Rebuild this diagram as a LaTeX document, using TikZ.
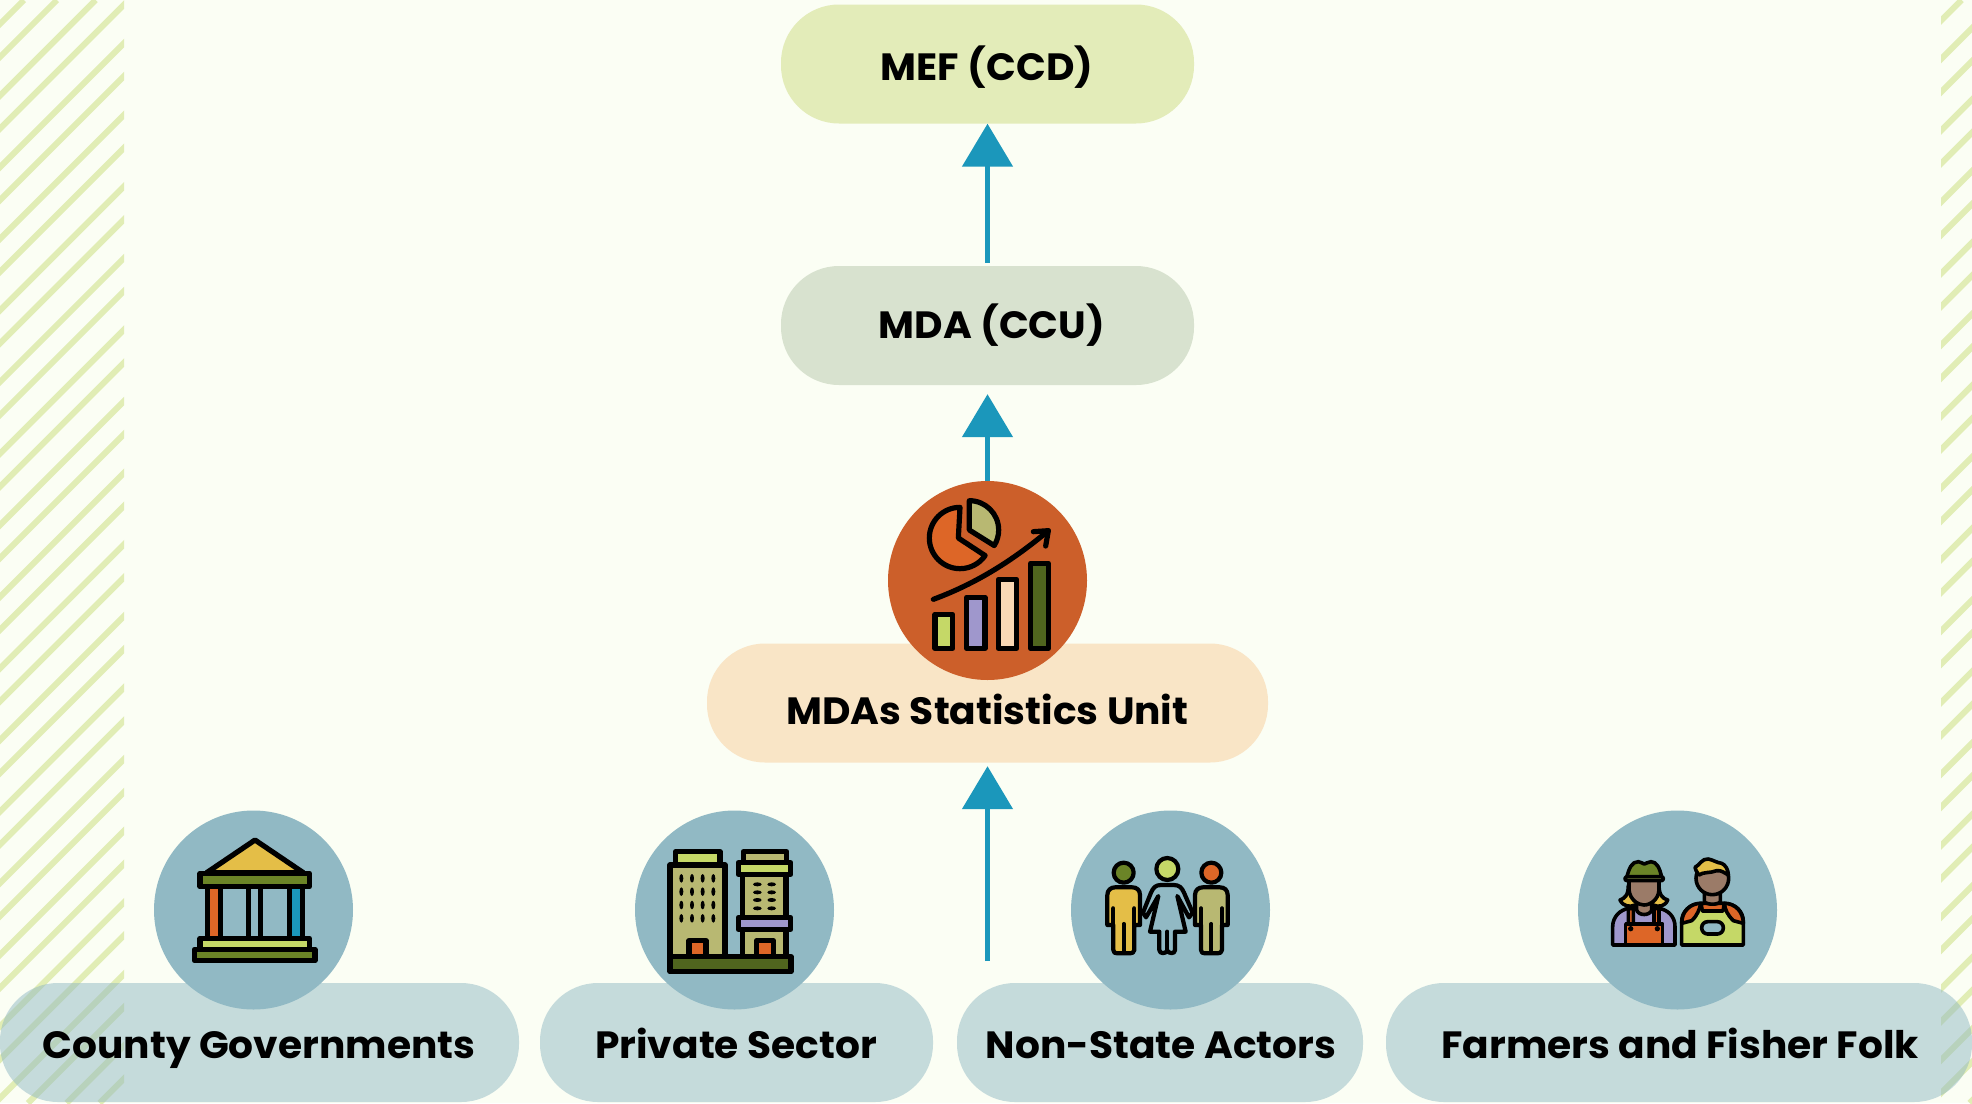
\documentclass[tikz,border=0pt]{standalone}
\usepackage{fontspec}
\setmainfont{Poppins}
\newfontfamily\labfont[FakeStretch=1.03]{Poppins}
\usetikzlibrary{arrows.meta}
\definecolor{bgc}{HTML}{FBFEF4}
\definecolor{stripec}{HTML}{E1EDB5}
\definecolor{tealc}{HTML}{91B9C4}
\definecolor{orangec}{HTML}{CC5F2A}
\definecolor{arrowc}{HTML}{1B97BB}
\definecolor{mefc}{HTML}{E3ECB9}
\definecolor{mdac}{HTML}{D8E2CF}
\definecolor{statc}{HTML}{F9E5C6}
\definecolor{ior}{HTML}{DD6627}
\definecolor{ikh}{HTML}{B8B872}
\definecolor{ilime}{HTML}{C5D867}
\definecolor{ipur}{HTML}{9F97CC}
\definecolor{ipeach}{HTML}{F9D8B5}
\definecolor{idk}{HTML}{50651E}
\definecolor{igr}{HTML}{6B8427}
\definecolor{iyel}{HTML}{E4BE47}
\definecolor{ibr}{HTML}{9B7B68}
\tikzset{
  pill/.style={rectangle,rounded corners=58pt,inner sep=0pt,minimum height=119pt,draw=none},
  low/.style={pill,fill=tealc,fill opacity=0.5},
  disc/.style={circle,inner sep=0pt,minimum size=199pt,draw=none,fill=tealc},
  lab/.style={inner sep=0pt,anchor=base,font=\labfont\fontsize{38pt}{42pt}\selectfont\bfseries,text=black},
  flow/.style={draw=arrowc,line width=5pt,-{Triangle[width=50pt,length=43pt]}},
  ic/.style={draw=black,line width=5.2pt,line join=round,line cap=round},
  icthin/.style={draw=black,line width=3.6pt,line join=round,line cap=round},
  icmid/.style={draw=black,line width=4.2pt,line join=round,line cap=round},
  zoomed/.style={x=0.33333pt,y=-0.33333pt}
}
\begin{document}
\begin{tikzpicture}[x=1pt,y=-1pt]
\useasboundingbox (0,0) rectangle (1972,1103);
\fill[bgc] (0,0) rectangle (1972,1103);
% stripes
\begin{scope}
\clip (0,0) rectangle (124,1103);
\foreach \k in {-1,...,17}{
  \draw[stripec,line width=6pt] ({24+71.6*\k},0) -- ({24+71.6*\k-1103},1103);
  \draw[stripec,line width=6pt] ({57+71.6*\k},0) -- ({57+71.6*\k-1103},1103);
}
\end{scope}
\begin{scope}
\clip (1941,0) rectangle (1972,1103);
\foreach \k in {-14,...,3}{
  \draw[stripec,line width=6pt] ({2858+71.5*\k},0) -- ({2858+71.5*\k-1103},1103);
  \draw[stripec,line width=6pt] ({2891+71.5*\k},0) -- ({2891+71.5*\k-1103},1103);
}
\end{scope}
% pills
\node[pill,fill=mefc,minimum width=413pt] (mef) at (987.5,64) {};
\node[pill,fill=mdac,minimum width=413pt] (mda) at (987.5,325.5) {};
\node[pill,fill=statc,minimum width=561pt] (stat) at (987.5,703) {};
\node[low,minimum width=519pt] (county) at (259.5,1042.5) {};
\node[low,minimum width=393pt] (private) at (736.5,1042.5) {};
\node[low,minimum width=406pt] (nonstate) at (1160,1042.5) {};
\node[low,minimum width=586pt] (farmers) at (1679,1042.5) {};
% discs
\node[disc,fill=orangec] (statdisc) at (987.5,580.5) {};
\node[disc] (countydisc) at (253.5,910) {};
\node[disc] (privatedisc) at (734.5,910) {};
\node[disc] (nonstatedisc) at (1170.5,910) {};
\node[disc] (farmersdisc) at (1677.5,910) {};
% connectors
\coordinate (src) at (987.5,961);
\draw[flow,shorten <=3pt] (mda.north) -- (mef.south);
\draw[flow,shorten >=9pt] (statdisc.north) -- (mda.south);
\draw[flow,shorten >=3.5pt] (src) -- (stat.south);
% labels
\node[lab] (meft) at (987,80) {MEF (CCD)};
\node[lab] (mdat) at (992,338) {MDA (CCU)};
\node[lab] (statt) at (987.5,724) {MDAs Statistics Unit};
\node[lab] (countyt) at (259,1058) {County Governments};
\node[lab] (privatet) at (736,1058) {Private Sector};
\node[lab] (nonstatet) at (1161,1058) {Non-State Actors};
\node[lab] (farmerst) at (1680,1058) {Farmers and Fisher Folk};
% statistics icon
\begin{scope}[shift={(880,470)},zoomed]
\draw[ic,fill=ior] (240,112) arc[start angle=270,end angle=35,radius=92] -- (235,204) -- cycle;
\draw[ic,fill=ikh] (268,92) arc[start angle=270,end angle=392,radius=88] -- (268,180) -- cycle;
\draw[ic] (160,388) .. controls (290,340) and (400,270) .. (505,182);
\draw[ic] (460,185) -- (505,182) -- (497,228);
\draw[ic,fill=ilime] (165,433) rectangle (218,535);
\draw[ic,fill=ipur] (260,382) rectangle (315,535);
\draw[ic,fill=ipeach] (355,328) rectangle (410,535);
\draw[ic,fill=idk] (452,280) rectangle (505,535);
\end{scope}
% bank icon
\begin{scope}[shift={(150,810)},zoomed]
\draw[ic,fill=iyel] (170,188) -- (315,90) -- (460,188) -- cycle;
\draw[ic,fill=ior] (172,230) rectangle (212,385);
\draw[ic,fill=arrowc] (418,230) rectangle (458,385);
\draw[ic] (295,230) -- (295,385);
\draw[ic] (332,230) -- (332,385);
\draw[ic,fill=igr] (150,190) rectangle (478,230);
\draw[ic,fill=ilime] (150,385) rectangle (478,418);
\draw[ic,fill=igr] (133,418) rectangle (495,452);
\end{scope}
% buildings icon
\begin{scope}[shift={(630,810)},zoomed]
\draw[ic,fill=ilime] (137,125) rectangle (270,165);
\draw[ic,fill=ikh] (120,165) rectangle (285,440);
\foreach \xx in {154,186,218,250}
  \foreach \yy in {205,245,285,325}
    \fill[black] (\xx,\yy) ellipse[x radius=6,y radius=13];
\draw[ic,fill=ior] (177,392) rectangle (228,440);
\draw[ic,fill=ikh] (340,125) rectangle (470,158);
\draw[ic,fill=ikh] (338,193) rectangle (468,322);
\foreach \xx in {382,425}
  \foreach \yy in {223,247,270,295}
    \fill[black] (\xx,\yy) ellipse[x radius=13,y radius=6];
\draw[ic,fill=ilime] (325,158) rectangle (482,193);
\draw[ic,fill=ikh] (338,358) rectangle (468,440);
\draw[ic,fill=ipur] (325,322) rectangle (482,358);
\draw[ic,fill=ior] (380,392) rectangle (430,440);
\draw[ic,fill=idk] (120,440) rectangle (483,485);
\end{scope}
% people icon
\begin{scope}[shift={(1065,810)},zoomed]
\draw[icmid,fill=igr] (176,188) circle[radius=30];
\draw[icmid,fill=ilime] (307,177) circle[radius=33];
\draw[icmid,fill=ior] (439,188) circle[radius=30];
\draw[icmid] (234,308) -- (258,248) .. controls (265,232) and (272,225) .. (288,225) -- (326,225) .. controls (342,225) and (350,232) .. (357,248) -- (383,308) -- (372,322) -- (337,258) -- (362,365) -- (330,365) -- (330,420) .. controls (330,432) and (312,432) .. (307,422) .. controls (302,432) and (283,432) .. (283,420) -- (283,365) -- (255,365) -- (280,258) -- (243,322) -- cycle;
\draw[icmid] (307,365) -- (307,422);
\foreach \dx/\cc in {0/iyel,263/ikh}{
  \begin{scope}[xshift=\dx*0.33333pt]
  \draw[icmid,fill=\cc] (127,345) -- (127,255) .. controls (127,240) and (138,232) .. (150,232) -- (202,232) .. controls (215,232) and (225,240) .. (225,255) -- (225,345) -- (208,345) -- (208,420) .. controls (208,428) and (200,430) .. (195,430) -- (157,430) .. controls (150,430) and (145,428) .. (145,420) -- (145,345) -- cycle;
  \draw[icmid] (176,342) -- (176,428);
  \draw[icmid] (145,295) -- (145,345);
  \draw[icmid] (208,295) -- (208,345);
  \end{scope}
}
\end{scope}
% farmers icon
\begin{scope}[shift={(1575,810)},zoomed]
\draw[icthin,fill=iyel] (160,225) .. controls (160,255) and (150,265) .. (135,270) .. controls (145,290) and (165,292) .. (180,285) -- (235,285) .. controls (250,292) and (270,290) .. (278,270) .. controls (262,265) and (252,255) .. (252,225) -- cycle;
\draw[icthin,fill=ipur] (113,405) -- (113,350) .. controls (113,320) and (135,300) .. (160,295) -- (252,295) .. controls (280,300) and (300,320) .. (300,350) -- (300,405) -- cycle;
\draw[icthin,fill=ibr] (185,275) -- (185,300) .. controls (190,318) and (225,318) .. (230,300) -- (230,275) -- cycle;
\draw[icthin,fill=ior] (160,295) -- (160,342) -- (175,342) -- (175,296) -- cycle;
\draw[icthin,fill=ior] (237,296) -- (237,342) -- (252,342) -- (252,295) -- cycle;
\draw[icthin,fill=ior] (152,342) rectangle (263,405);
\fill[black] (167,356) circle[radius=8];
\fill[black] (247,356) circle[radius=8];
\draw[icthin,fill=ibr] (162,205) -- (162,240) .. controls (165,270) and (190,285) .. (207,285) .. controls (225,285) and (250,270) .. (252,240) -- (252,205) -- cycle;
\draw[icthin,fill=igr] (155,203) .. controls (162,175) and (170,155) .. (190,155) .. controls (198,155) and (203,162) .. (208,162) .. controls (213,162) and (218,155) .. (228,155) .. controls (245,155) and (255,175) .. (260,203) -- cycle;
\draw[icthin,fill=ilime,rounded corners=2pt] (150,200) rectangle (265,212);
% man
\draw[icthin,fill=ilime] (320,405) -- (320,335) .. controls (320,305) and (345,280) .. (378,280) -- (448,280) .. controls (482,280) and (505,305) .. (505,335) -- (505,405) -- cycle;
\draw[icthin,fill=ior] (320,340) .. controls (320,305) and (345,280) .. (378,280) .. controls (372,300) and (368,315) .. (350,332) -- cycle;
\draw[icthin,fill=ior] (505,340) .. controls (505,305) and (480,280) .. (448,280) .. controls (450,300) and (458,315) .. (475,332) -- cycle;
\draw[icthin,fill=ior] (378,280) -- (448,280) -- (444,303) -- (382,303) -- cycle;
\draw[icthin,fill=tealc,rounded corners=6pt] (380,335) -- (445,335) -- (445,372) -- (380,372) -- cycle;
\draw[icthin,fill=ibr] (388,250) -- (388,275) .. controls (395,285) and (430,285) .. (436,275) -- (436,250) -- cycle;
\draw[icthin,fill=ibr] (412,205) circle[radius=49];
\draw[icthin,fill=iyel] (372,195) .. controls (365,185) and (360,178) .. (360,172) .. controls (375,165) and (380,145) .. (400,147) .. controls (415,150) and (425,158) .. (440,160) .. controls (452,165) and (460,180) .. (460,195) .. controls (450,190) and (440,180) .. (425,182) .. controls (405,190) and (385,185) .. (372,195) -- cycle;
\end{scope}
\end{tikzpicture}
\end{document}
